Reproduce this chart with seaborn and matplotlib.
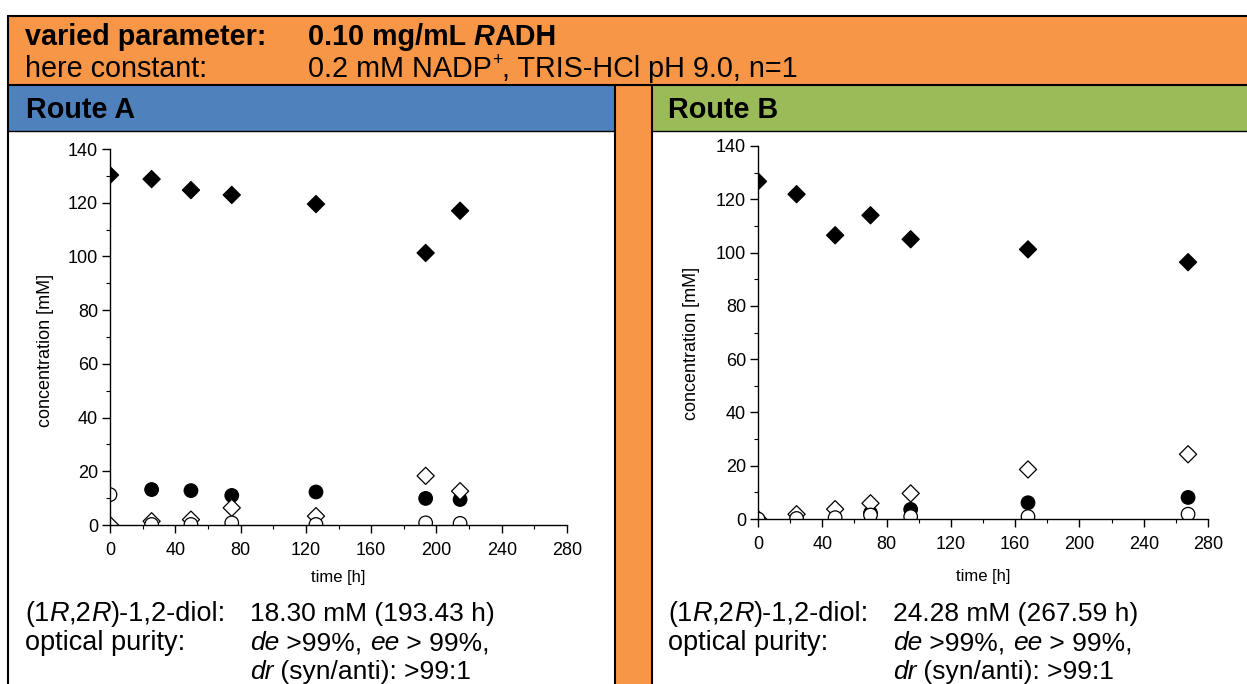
import numpy as np
import pandas as pd
import matplotlib.pyplot as plt
import seaborn as sns
from matplotlib.patches import Rectangle
from matplotlib.lines import Line2D
from matplotlib.ticker import MultipleLocator

### DATA ###############################################################################################################
# Route A sampling times [h] and concentrations [mM]
time_a = [0, 25.5, 49.6, 74.6, 126.2, 193.4, 214.5]
substrate_a = [130.3, 128.8, 124.7, 122.9, 119.5, 101.3, 117.0]        # filled diamonds
intermediate_a = [np.nan, 13.2, 12.8, 11.0, 12.3, 9.9, 9.5]           # filled circles
diol_a = [0.0, 1.4, 2.0, 6.4, 3.3, 18.3, 12.6]                        # open diamonds
byproduct_a = [11.3, 0.2, 0.2, 0.8, 0.2, 0.8, 0.6]                    # open circles

# Route B sampling times [h] and concentrations [mM]
time_b = [0, 24, 48, 70, 95, 168, 267.6]
substrate_b = [126.7, 121.9, 106.5, 114.0, 105.0, 101.2, 96.4]
intermediate_b = [np.nan, np.nan, np.nan, 2.2, 3.6, 6.1, 8.1]
diol_b = [0.0, 1.8, 3.7, 5.9, 9.6, 18.6, 24.3]
byproduct_b = [0.0, 0.2, 0.5, 1.5, 0.9, 0.9, 1.8]

species = ["substrate", "intermediate", "diol", "byproduct"]
x_ticks = [0, 40, 80, 120, 160, 200, 240, 280]
y_ticks = [0, 20, 40, 60, 80, 100, 120, 140]

### STYLE ##############################################################################################################
sns.set_style("ticks")
plt.rcParams["font.family"] = ["Liberation Sans", "DejaVu Sans"]
plt.rcParams.update({"text.color": "black", "axes.labelcolor": "black", "axes.edgecolor": "black",
                     "xtick.color": "black", "ytick.color": "black"})

ORANGE = "#F79646"
BLUE = "#4F81BD"
GREEN = "#9BBB59"

fills = {"substrate": "black", "intermediate": "black", "diol": "white", "byproduct": "white"}
shapes = {"substrate": "D", "intermediate": "o", "diol": "D", "byproduct": "o"}
areas = {"substrate": 76, "intermediate": 95, "diol": 76, "byproduct": 95}

W, H = 1247, 684
PX = 100 / 72  # pixels per point
fig = plt.figure(figsize=(W / 100, H / 100), dpi=100)


def box(x0, y0, x1, y1, color):
    fig.patches.append(Rectangle((x0 / W, 1 - y1 / H), (x1 - x0) / W, (y1 - y0) / H,
                                 transform=fig.transFigure, color=color, lw=0, zorder=0))


def line(x0, y0, x1, y1, lw=1.5):
    fig.lines.append(Line2D([x0 / W, x1 / W], [1 - y0 / H, 1 - y1 / H], transform=fig.transFigure,
                            color="black", lw=lw, zorder=1))


def write_runs(x, y, runs, size=20.7):
    # one line of text made of (text, weight, style, superscript) pieces
    renderer = fig.canvas.get_renderer()
    for s, weight, style, sup in runs:
        fs = size * 0.62 if sup else size
        yy = y - size * 0.42 * PX if sup else y
        t = fig.text(x / W, 1 - yy / H, s, fontsize=fs, fontweight=weight, fontstyle=style,
                     ha="left", va="baseline")
        prop = t.get_fontproperties()
        w_full = renderer.get_text_width_height_descent("|" + s + "|", prop, ismath=False)[0]
        w_bars = renderer.get_text_width_height_descent("||", prop, ismath=False)[0]
        x += w_full - w_bars


### TABLE BACKGROUND ###################################################################################################
box(8, 16, W, 85, ORANGE)
box(8, 85, 615, 131, BLUE)
box(615, 85, 652, H, ORANGE)
box(652, 85, W, 131, GREEN)
line(8, 16, W, 16)
line(8, 85, W, 85)
line(8, 131, 615, 131, lw=1)
line(652, 131, W, 131, lw=1)
line(8, 16, 8, H)
line(615, 85, 615, H)
line(652, 85, 652, H)

N, B, I = ("normal", "normal"), ("bold", "normal"), ("normal", "italic")

write_runs(25, 45, [("varied parameter:", *B, False)])
write_runs(308, 45, [("0.10 mg/mL ", *B, False), ("R", "bold", "italic", False), ("ADH", *B, False)])
write_runs(25, 77, [("here constant:", *N, False)])
write_runs(308, 77, [("0.2 mM NADP", *N, False), ("+", *N, True), (", TRIS-HCl pH 9.0, n=1", *N, False)])
write_runs(26, 118, [("Route A", *B, False)])
write_runs(668, 118, [("Route B", *B, False)])


### PLOTS ##############################################################################################################
def panel(rect, t, sub, inter, diol, by, ylab_xy, xlab_y):
    ax = fig.add_axes(rect)
    df = pd.concat([pd.DataFrame({"time": t, "conc": v, "species": name})
                    for name, v in zip(species, [sub, inter, diol, by])]).dropna()
    sns.scatterplot(data=df, x="time", y="conc", hue="species", style="species", size="species",
                    palette=fills, markers=shapes, sizes=areas, edgecolor="black", linewidth=0.9,
                    legend=False, ax=ax)
    ax.set_xlim(0, 280)
    ax.set_ylim(0, 140)
    ax.set_xticks(x_ticks)
    ax.set_yticks(y_ticks)
    ax.xaxis.set_minor_locator(MultipleLocator(20))
    ax.yaxis.set_minor_locator(MultipleLocator(10))
    ax.tick_params(which="major", direction="out", length=5.5, width=1, labelsize=13, pad=3)
    ax.tick_params(which="minor", direction="out", length=3, width=0.8)
    ax.tick_params(axis="x", which="major", pad=6.5)
    sns.despine(ax=ax)
    for sp in ["left", "bottom"]:
        ax.spines[sp].set_linewidth(1)
    ax.set_xlabel("time [h]", fontsize=12)
    ax.set_ylabel("concentration [mM]", fontsize=13)
    ax.yaxis.set_label_coords(*ylab_xy)
    ax.xaxis.set_label_coords(0.5, xlab_y)
    return ax


panel([110 / W, 1 - 525 / H, 457 / W, 376 / H], time_a, substrate_a, intermediate_a, diol_a, byproduct_a,
      (-0.123, 0.465), -0.12)
panel([758 / W, 1 - 519 / H, 450 / W, 373 / H], time_b, substrate_b, intermediate_b, diol_b, byproduct_b,
      (-0.129, 0.47), -0.133)

### RESULTS TEXT #######################################################################################################
for x0, x1, conc in [(25, 250, "18.30 mM (193.43 h)"), (668, 893, "24.28 mM (267.59 h)")]:
    write_runs(x0, 621, [("(1", *N, False), ("R", *I, False), (",2", *N, False), ("R", *I, False),
                         (")-1,2-diol:", *N, False)], size=19.5)
    write_runs(x1, 621, [(conc, *N, False)], size=19)
    write_runs(x0, 650, [("optical purity:", *N, False)], size=19.5)
    write_runs(x1, 650, [("de", *I, False), (" >99%, ", *N, False), ("ee", *I, False), (" > 99%,", *N, False)],
               size=19)
    write_runs(x1, 679, [("dr", *I, False), (" (syn/anti): >99:1", *N, False)], size=19)

fig.savefig("out.png", dpi=100)
